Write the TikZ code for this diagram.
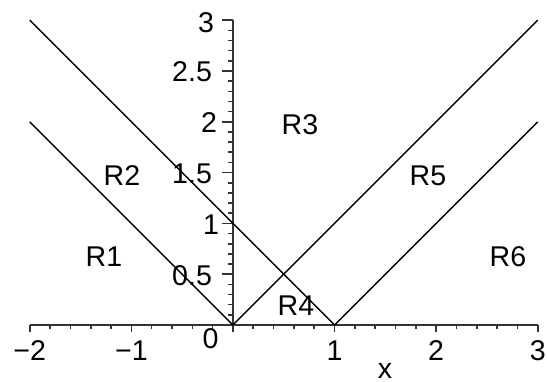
\documentclass[tikz,border=0pt]{standalone}
\usepackage{fontspec}
\setmainfont{Liberation Sans}
\begin{document}
\begin{tikzpicture}[x=1cm,y=1cm,
  lbl/.style={font=\fontsize{8}{9.5}\selectfont, inner sep=0pt},
  axisline/.style={black!80, line width=0.45pt},
  curve/.style={black, line width=0.4pt},
  tickmark/.style={black!80, line width=0.45pt}]
\useasboundingbox (-2.293,-0.561) rectangle (3.091,3.199);
% axes
\coordinate (xl) at (-2,0);
\coordinate (xr) at (3,0);
\coordinate (yb) at (0,0);
\coordinate (yt) at (0,3);
\draw[axisline] (xl) -- (xr);
\draw[axisline] (yb) -- (yt);
% x ticks
\foreach \i in {-10,...,15}{
  \pgfmathsetmacro{\xx}{\i/5}
  \pgfmathtruncatemacro{\m}{mod(abs(\i),5)}
  \ifnum\m=0
    \draw[tickmark] (\xx,0) -- ++(0,-0.065);
  \else
    \draw[tickmark] (\xx,0) -- ++(0,-0.035);
  \fi
}
% y ticks
\foreach \j in {1,...,30}{
  \pgfmathsetmacro{\yy}{\j/10}
  \pgfmathtruncatemacro{\m}{mod(\j,5)}
  \ifnum\m=0
    \draw[tickmark] (0,\yy) -- ++(-0.11,0);
  \else
    \draw[tickmark] (0,\yy) -- ++(-0.05,0);
  \fi
}
% tick labels
\node[lbl] (xm2) at (-2,-0.256) {−2};
\node[lbl] (xm1) at (-1,-0.256) {−1};
\node[lbl] (x0) at (-0.221,-0.13) {0};
\node[lbl] (x1) at (1,-0.256) {1};
\node[lbl] (x2) at (2,-0.256) {2};
\node[lbl] (x3) at (3,-0.256) {3};
\node[lbl] (xlab) at (1.496,-0.455) {x};
\node[lbl,anchor=east] (y05) at (-0.2,0.49) {0.5};
\node[lbl,anchor=east] (y1) at (-0.13,0.99) {1};
\node[lbl,anchor=east] (y15) at (-0.2,1.49) {1.5};
\node[lbl,anchor=east] (y2) at (-0.15,1.99) {2};
\node[lbl,anchor=east] (y25) at (-0.2,2.49) {2.5};
\node[lbl,anchor=east] (y3) at (-0.18,2.98) {3};
% curves
\coordinate (a1) at (-2,2);
\coordinate (o) at (0,0);
\coordinate (a2) at (-2,3);
\coordinate (one) at (1,0);
\coordinate (b1) at (3,3);
\coordinate (b2) at (3,2);
\draw[curve] (a1) -- (o);
\draw[curve] (a2) -- (one);
\draw[curve] (o) -- (b1);
\draw[curve] (one) -- (b2);
% region labels
\node[lbl] (r1) at (-1.27,0.669) {R1};
\node[lbl] (r2) at (-1.093,1.467) {R2};
\node[lbl] (r3) at (0.659,1.969) {R3};
\node[lbl] (r4) at (0.62,0.187) {R4};
\node[lbl] (r5) at (1.919,1.467) {R5};
\node[lbl] (r6) at (2.707,0.669) {R6};
\end{tikzpicture}
\end{document}
